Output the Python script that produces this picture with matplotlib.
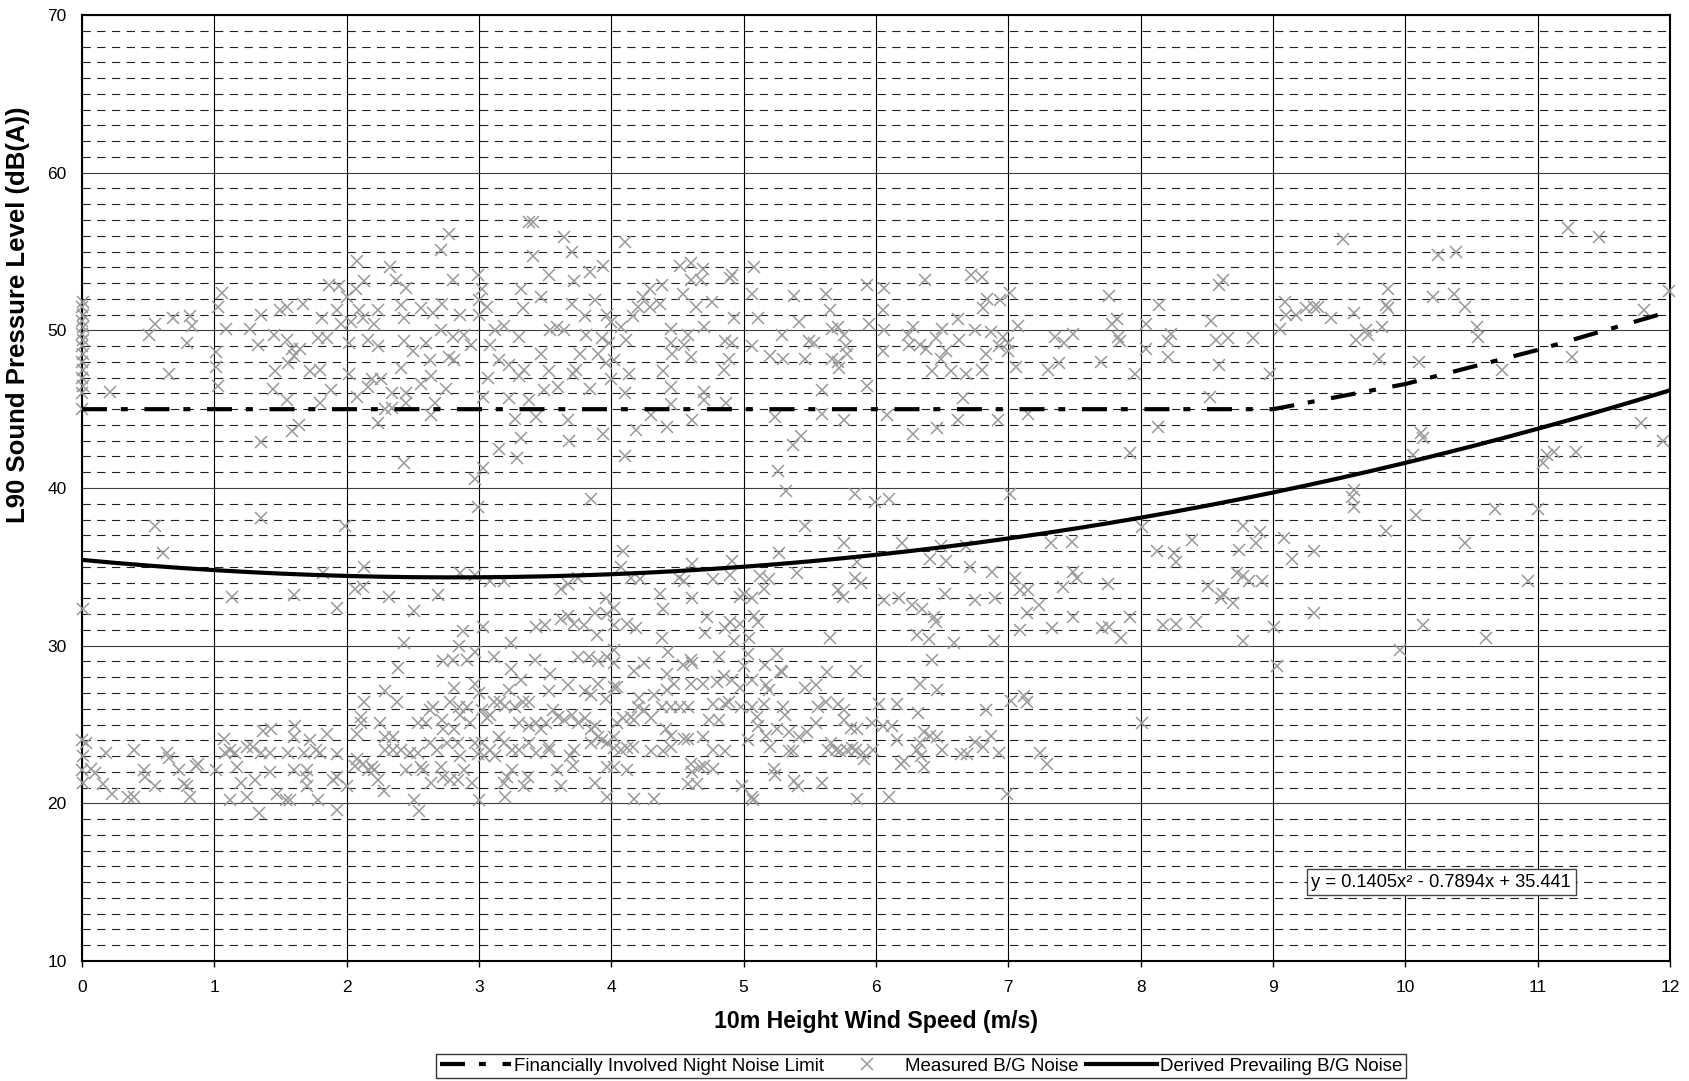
import numpy as np
import matplotlib
matplotlib.use("Agg")
import matplotlib.pyplot as plt
from matplotlib.lines import Line2D
from matplotlib.ticker import MultipleLocator

plt.rcParams['font.family'] = ['Liberation Sans', 'DejaVu Sans']
plt.rcParams['lines.scale_dashes'] = False

# Derived prevailing background noise: quadratic fit y = a*x^2 + b*x + c
FIT_A, FIT_B, FIT_C = 0.1405, -0.7894, 35.441
# Night limit for financially involved dwellings: 45 dB(A) or fit + 5 dB
LIMIT_FLOOR = 45.0
LIMIT_MARGIN = 5.0
# limit is evaluated at whole wind speeds only
LIMIT_SPEEDS = [0, 1, 2, 3, 4, 5, 6, 7, 8, 9, 10, 11, 12]

LABEL_LIMIT = "Financially Involved Night Noise Limit"
LABEL_MEASURED = "Measured B/G Noise"
LABEL_DERIVED = "Derived Prevailing B/G Noise"
X_TITLE = "10m Height Wind Speed (m/s)"
Y_TITLE = "L90 Sound Pressure Level (dB(A))"

# Measured L90 samples, (wind speed m/s, level dB(A)), grouped by speed band
upper_0_2 = [
    (0.0, 45.0), (0.0, 46.0), (0.01, 46.5), (0.0, 47.0), (0.01, 47.5), (0.0, 48.0),
    (0.01, 48.5), (0.0, 49.0), (0.01, 49.4), (0.0, 49.8), (0.01, 50.2), (0.0, 50.6),
    (0.01, 51.0), (0.0, 51.5), (0.01, 51.8),
    (0.21, 46.1), (0.51, 49.7), (0.55, 50.4), (0.69, 50.8), (0.79, 49.2), (0.82, 50.9),
    (0.83, 50.3), (0.66, 47.2), (1.03, 51.5), (1.06, 52.4), (1.01, 48.6), (1.01, 47.7),
    (1.03, 46.5), (1.09, 50.1), (1.27, 50.1), (1.33, 49.1), (1.35, 51.0), (1.35, 42.9),
    (1.35, 38.1), (1.45, 49.7), (1.46, 47.4), (1.44, 46.3), (1.50, 51.3), (1.55, 51.5),
    (1.55, 49.4), (1.56, 47.9), (1.55, 45.6), (1.59, 48.8), (1.60, 48.4), (1.65, 48.8),
    (1.67, 51.7), (1.59, 43.6), (1.64, 44.0), (1.72, 47.4), (1.80, 47.5), (1.78, 49.5),
    (1.81, 50.8), (1.80, 45.4), (1.85, 49.5), (1.87, 52.9), (1.88, 46.2), (1.93, 51.3),
    (1.94, 52.8), (1.96, 50.4),
]
upper_2_4 = [
    (2.00, 52.1), (2.02, 49.2), (2.02, 47.2), (2.03, 50.5), (2.07, 52.6), (2.08, 54.4),
    (2.09, 51.3), (2.08, 45.8), (2.13, 53.1), (2.12, 50.8), (2.16, 49.4), (2.16, 46.4),
    (2.19, 46.9), (2.21, 50.4), (2.24, 51.3), (2.24, 49.0), (2.24, 44.1), (2.26, 46.9),
    (2.29, 45.0), (2.33, 54.0), (2.34, 46.0), (2.34, 45.1), (2.37, 53.2), (2.41, 51.6),
    (2.41, 47.6), (2.43, 50.8), (2.43, 49.3), (2.43, 41.6), (2.45, 52.7), (2.45, 46.0),
    (2.45, 45.4), (2.50, 48.7), (2.56, 51.4), (2.56, 46.6), (2.60, 49.2), (2.63, 48.1),
    (2.64, 47.1), (2.65, 51.1), (2.67, 45.4), (2.64, 44.6), (2.71, 55.1), (2.72, 51.7),
    (2.71, 50.0), (2.75, 46.3), (2.77, 56.1), (2.77, 48.3), (2.80, 53.2), (2.80, 49.6),
    (2.81, 48.1), (2.86, 51.0), (2.89, 49.7), (2.94, 49.1), (2.97, 40.6), (2.99, 53.5),
    (2.99, 38.8), (3.00, 51.9), (3.00, 51.0), (3.02, 52.6), (3.03, 45.8), (3.03, 41.3),
    (3.06, 51.5), (3.07, 47.0), (3.08, 49.1), (3.12, 50.0), (3.15, 42.5), (3.15, 48.1),
    (3.19, 50.3), (3.23, 47.8), (3.23, 45.7), (3.27, 44.4), (3.29, 41.9), (3.30, 49.6),
    (3.30, 47.1), (3.32, 52.6), (3.32, 43.2), (3.33, 51.4), (3.34, 47.5), (3.38, 56.9),
    (3.41, 56.9), (3.41, 54.7), (3.38, 45.6), (3.43, 44.5), (3.47, 48.5), (3.47, 52.1),
    (3.49, 46.2), (3.53, 53.5), (3.53, 47.4), (3.54, 50.0), (3.59, 50.2), (3.60, 46.4),
    (3.64, 55.9), (3.64, 50.0), (3.67, 44.3), (3.68, 43.0), (3.70, 51.7), (3.70, 55.0),
    (3.71, 47.2), (3.72, 53.1), (3.73, 47.5), (3.76, 48.5), (3.80, 50.9), (3.81, 49.7),
    (3.84, 53.7), (3.84, 46.3), (3.85, 39.3), (3.88, 51.9), (3.90, 48.5), (3.93, 49.5),
    (3.94, 54.1), (3.94, 43.4), (3.96, 47.9), (3.97, 51.0), (3.98, 49.2),
]
upper_4_6 = [
    (4.10, 55.6), (4.00, 50.5), (4.02, 48.1), (4.00, 46.9), (4.10, 46.0), (4.13, 47.2),
    (4.11, 49.4), (4.07, 50.2), (4.16, 50.9), (4.20, 51.5), (4.24, 52.1), (4.29, 52.6),
    (4.29, 51.5), (4.37, 51.7), (4.38, 52.9), (4.39, 47.4), (4.10, 42.0), (4.19, 43.7),
    (4.30, 44.6), (4.42, 43.9), (4.45, 46.4), (4.45, 45.3), (4.45, 50.1), (4.45, 49.2),
    (4.46, 48.5), (4.52, 54.1), (4.54, 52.3), (4.55, 49.1), (4.58, 49.7), (4.60, 54.3),
    (4.60, 53.2), (4.60, 48.3), (4.61, 44.3), (4.64, 51.5), (4.68, 53.2), (4.69, 53.9),
    (4.70, 50.2), (4.70, 46.1), (4.70, 45.6), (4.76, 51.8), (4.85, 47.5), (4.86, 49.3),
    (4.87, 45.4), (4.89, 48.2), (4.90, 53.3), (4.91, 53.5), (4.91, 49.2), (4.93, 50.8),
    (5.06, 52.3), (5.06, 49.0), (5.08, 54.0), (5.11, 50.8), (5.20, 48.4), (5.24, 44.5),
    (5.26, 41.1), (5.29, 49.7), (5.30, 48.2), (5.32, 39.8), (5.37, 42.7), (5.38, 52.2),
    (5.42, 50.5), (5.43, 43.3), (5.46, 48.2), (5.49, 49.3), (5.53, 49.2), (5.59, 46.2),
    (5.59, 44.7), (5.62, 52.3), (5.65, 51.3), (5.67, 50.1), (5.67, 48.2), (5.71, 50.2),
    (5.72, 47.6), (5.71, 48.0), (5.76, 49.7), (5.76, 44.3), (5.77, 49.0), (5.78, 48.5),
    (5.84, 39.6), (5.93, 52.9), (5.93, 46.5), (5.95, 50.4), (5.99, 39.1),
]
upper_6_8 = [
    (6.05, 51.3), (6.06, 52.7), (6.06, 50.0), (6.05, 48.7), (6.08, 44.6), (6.10, 39.3),
    (6.24, 49.7), (6.25, 49.1), (6.28, 50.2), (6.28, 43.4), (6.33, 49.1), (6.37, 53.2),
    (6.38, 48.8), (6.42, 47.4), (6.45, 49.5), (6.46, 43.8), (6.49, 48.2), (6.50, 50.1),
    (6.53, 48.7), (6.57, 47.4), (6.62, 50.7), (6.62, 44.3), (6.63, 49.4), (6.66, 45.7),
    (6.68, 47.2), (6.72, 53.5), (6.75, 50.0), (6.80, 53.4), (6.80, 47.5), (6.81, 51.4),
    (6.83, 48.5), (6.84, 52.0), (6.87, 49.9), (6.92, 44.3), (6.93, 49.0), (6.94, 51.9),
    (6.96, 49.6), (7.00, 49.2), (7.00, 48.7), (7.01, 52.4), (7.01, 39.6), (7.06, 47.7),
    (7.07, 50.3), (7.15, 44.7), (7.30, 47.5), (7.35, 49.6), (7.38, 47.9), (7.42, 49.2),
    (7.49, 49.8), (7.70, 48.0), (7.76, 52.2), (7.78, 50.4), (7.82, 50.7), (7.83, 49.6),
    (7.84, 49.3), (7.92, 42.2), (7.96, 47.2),
]
upper_8_12 = [
    (8.04, 50.4), (8.04, 48.8), (8.14, 51.6), (8.21, 49.3), (8.21, 48.3), (8.23, 49.8),
    (8.13, 43.9), (8.52, 45.8), (8.53, 50.6), (8.57, 49.4), (8.59, 52.9), (8.62, 53.2),
    (8.59, 47.8), (8.66, 49.5), (8.85, 49.5), (8.98, 47.2), (9.05, 50.1), (9.09, 51.8),
    (9.10, 51.0), (9.17, 51.0), (9.25, 51.4), (9.31, 51.5), (9.34, 51.5), (9.44, 50.8),
    (9.53, 55.8), (9.61, 51.1), (9.63, 49.4), (9.70, 50.0), (9.72, 49.7), (9.82, 50.2),
    (9.80, 48.2), (9.85, 51.6), (9.87, 52.6), (9.87, 51.4), (10.10, 48.0), (10.21, 52.1),
    (10.25, 54.8), (10.37, 52.3), (10.38, 55.0), (10.45, 51.5), (10.54, 50.2), (10.55, 49.6),
    (10.73, 47.5), (11.23, 56.5), (11.26, 48.3), (11.46, 55.9), (11.80, 51.3), (11.99, 52.5),
    (11.78, 44.1), (11.95, 43.0), (10.12, 43.5), (10.13, 43.2), (10.06, 42.1), (11.04, 41.6),
    (11.07, 42.1), (11.12, 42.3), (11.29, 42.3), (9.61, 39.9), (9.60, 39.4), (9.61, 38.8),
    (10.08, 38.3), (10.68, 38.7), (11.00, 38.7),
]
lower_0_4 = [
    (0.55, 37.6), (0.61, 35.9), (1.99, 37.6), (2.13, 35.0), (1.82, 34.6), (2.06, 33.6),
    (2.12, 33.7), (1.13, 33.1), (1.60, 33.2), (1.93, 32.4), (2.32, 33.1), (2.51, 32.2),
    (2.69, 33.2), (2.86, 34.6), (2.97, 34.5), (3.08, 34.1), (3.19, 34.1), (3.62, 33.6),
    (3.67, 33.9), (3.75, 34.3), (3.03, 31.2), (2.88, 30.9), (2.85, 30.0), (2.97, 29.6),
    (2.43, 30.2), (2.39, 28.6), (2.73, 29.0), (2.80, 29.1), (2.91, 29.1), (3.11, 29.3),
    (3.24, 30.2), (3.42, 29.1), (3.43, 31.2), (3.50, 31.3), (3.62, 31.7), (3.67, 31.9),
    (3.72, 31.4), (3.79, 31.3), (3.89, 30.7), (3.96, 33.0), (3.88, 32.1), (3.97, 32.0),
    (3.75, 29.3), (3.83, 29.3), (3.90, 29.0), (3.97, 29.3), (2.81, 27.3), (2.29, 27.1),
    (2.38, 26.4), (2.13, 26.4), (2.97, 27.6), (3.24, 28.5), (3.32, 27.8), (3.23, 27.2),
    (3.00, 27.0), (3.54, 28.2), (3.53, 27.1), (3.67, 27.5), (3.80, 27.1), (3.85, 26.9),
    (3.90, 27.6), (3.96, 26.6),
    (2.63, 25.9), (2.65, 26.1), (2.54, 25.1), (2.72, 25.3), (2.78, 26.4), (2.85, 26.1),
    (2.86, 25.6), (2.91, 26.1), (2.93, 25.1), (3.02, 25.9), (3.06, 25.4), (3.08, 25.6),
    (3.11, 26.4), (3.16, 26.4), (3.20, 26.2), (3.27, 26.1), (3.33, 26.4), (3.38, 26.4),
    (3.30, 25.1), (3.38, 24.9), (3.43, 25.1), (3.47, 24.7), (3.51, 25.1), (3.56, 25.9),
    (3.60, 25.5), (3.64, 25.3), (3.70, 25.6), (3.80, 25.4), (3.85, 24.7), (3.88, 24.9),
    (3.90, 24.2), (3.93, 24.0), (3.97, 23.8), (3.85, 23.8), (3.97, 22.3), (3.88, 21.3),
    (3.97, 20.4), (3.75, 25.1), (3.72, 23.4), (3.71, 22.4), (3.69, 23.0), (3.62, 21.1),
    (3.59, 22.1), (3.53, 23.6), (3.53, 23.4), (3.43, 23.2), (3.37, 21.7), (3.34, 21.1),
    (3.38, 23.8), (3.30, 23.4), (3.25, 22.1), (3.21, 21.7), (3.19, 21.3), (3.20, 20.4),
    (3.25, 23.4), (3.19, 23.8), (3.15, 24.2), (3.12, 23.0), (3.08, 23.4), (3.04, 23.0),
    (3.02, 23.8), (2.99, 23.1), (2.97, 23.8), (3.00, 20.2), (2.95, 21.3), (2.89, 22.1),
    (2.86, 23.0), (2.84, 23.8), (2.81, 24.7), (2.76, 23.8), (2.73, 24.7), (2.73, 21.7),
    (2.78, 21.5), (2.84, 21.5), (2.71, 22.3), (2.68, 23.4), (2.63, 23.8), (2.60, 25.1),
    (2.64, 21.3), (2.58, 22.1), (2.56, 22.3), (2.54, 23.2), (2.48, 23.2), (2.45, 22.1),
    (2.41, 23.4), (2.35, 23.4), (2.29, 23.4), (2.28, 20.8), (2.24, 21.5), (2.21, 22.1),
    (2.19, 22.3), (2.16, 22.1), (2.12, 22.5), (2.08, 22.8), (2.06, 22.4), (2.11, 25.1),
    (2.11, 25.5), (2.08, 24.4), (2.25, 25.1), (2.29, 24.2), (2.35, 24.2), (2.51, 20.2),
    (2.55, 19.5), (2.00, 21.1), (1.93, 19.6), (1.93, 23.1), (1.93, 21.7), (1.90, 21.5),
    (1.85, 24.4), (1.78, 20.2), (1.80, 23.2), (1.77, 23.4), (1.72, 24.0), (1.70, 22.1),
    (1.69, 21.7), (1.70, 21.1), (1.68, 23.2), (1.61, 24.9), (1.60, 24.2), (1.60, 22.1),
    (1.56, 23.2), (1.57, 20.2), (1.54, 20.2), (1.47, 20.6), (1.43, 24.7), (1.42, 23.2),
    (1.42, 22.0), (1.37, 24.6), (1.35, 23.2), (1.34, 19.4), (1.31, 21.5), (1.29, 23.6),
    (1.25, 23.6), (1.25, 20.4), (1.20, 21.3), (1.17, 22.3), (1.16, 23.2), (1.12, 23.4),
    (1.12, 20.2), (1.08, 23.2), (1.07, 24.1), (1.01, 22.1), (0.88, 22.5), (0.86, 22.4),
    (0.82, 20.4), (0.79, 21.1), (0.77, 21.2), (0.73, 22.1), (0.66, 22.9), (0.64, 23.2),
    (0.55, 21.1), (0.47, 22.1), (0.48, 21.7), (0.39, 23.4), (0.39, 20.4), (0.35, 20.4),
    (0.23, 20.6), (0.18, 23.2), (0.16, 21.2), (0.10, 21.9), (0.07, 22.2), (0.03, 23.8),
    (0.01, 23.0), (0.0, 22.1), (0.01, 21.3), (0.0, 24.0), (0.01, 32.3),
]
lower_4_8 = [
    (5.46, 37.6), (5.76, 36.5), (6.20, 36.5), (4.09, 36.0), (4.07, 35.0), (4.61, 35.2),
    (5.27, 35.9), (4.91, 35.4), (5.86, 35.3), (6.41, 35.5), (6.49, 36.3), (6.53, 35.4),
    (6.68, 36.3), (6.71, 35.0), (6.88, 34.7), (7.32, 36.5), (7.48, 36.6), (7.49, 34.7),
    (7.52, 34.3), (8.01, 37.5), (7.05, 34.3), (7.09, 33.5), (7.15, 33.5), (7.23, 32.6),
    (7.14, 32.1), (7.09, 31.0), (7.33, 31.1), (7.41, 33.7), (7.49, 31.8), (7.75, 33.9),
    (7.71, 31.1), (7.76, 31.2), (7.85, 30.5), (7.92, 31.8), (4.15, 34.3), (4.22, 34.2),
    (4.37, 33.3), (4.51, 34.3), (4.55, 34.1), (4.61, 33.0), (4.77, 34.2), (4.90, 34.5),
    (4.97, 33.1), (5.00, 33.3), (5.06, 33.0), (5.12, 34.4), (5.15, 33.6), (5.19, 34.2),
    (5.40, 34.6), (5.71, 33.5), (5.75, 33.1), (5.84, 34.3), (5.89, 34.0), (6.06, 32.9),
    (6.17, 33.0), (6.27, 32.6), (6.35, 32.3), (6.44, 31.8), (6.45, 31.5), (6.52, 33.3),
    (6.75, 32.9), (6.90, 33.0), (4.39, 32.3), (4.02, 32.4), (4.02, 31.3), (4.12, 31.4),
    (4.19, 31.1), (4.38, 30.5), (4.43, 29.6), (4.72, 31.8), (4.71, 30.8), (4.86, 31.1),
    (4.90, 31.5), (4.97, 31.4), (4.93, 30.3), (5.04, 30.5), (5.08, 31.9), (5.11, 31.5),
    (5.65, 30.5), (6.31, 30.7), (6.40, 30.4), (6.59, 30.2), (6.89, 30.3), (6.42, 29.1),
    (4.02, 29.7), (4.02, 28.9), (4.02, 27.4), (4.04, 27.4), (4.17, 28.4), (4.25, 28.9),
    (4.42, 28.2), (4.42, 27.2), (4.47, 27.6), (4.54, 28.8), (4.60, 29.1), (4.61, 28.9),
    (4.60, 27.6), (4.69, 27.6), (4.81, 29.3), (4.80, 27.7), (4.85, 28.1), (4.91, 27.8),
    (4.97, 27.3), (5.00, 28.7), (5.03, 29.5), (5.06, 27.8), (5.16, 28.8), (5.17, 27.5),
    (5.19, 27.2), (5.25, 29.5), (5.28, 28.4), (5.29, 28.3), (5.46, 27.3), (5.55, 27.5),
    (5.63, 28.3), (5.85, 28.4), (6.33, 27.6), (6.46, 27.2), (4.21, 26.7), (4.20, 26.1),
    (4.25, 25.9), (4.32, 26.9), (4.15, 25.5), (4.09, 25.4), (4.04, 25.1), (4.17, 25.3),
    (4.30, 25.4), (4.38, 26.1), (4.45, 26.1), (4.52, 26.1), (4.58, 26.1), (4.41, 24.7),
    (4.45, 24.3), (4.55, 24.1), (4.58, 24.1), (4.69, 24.2), (4.74, 25.3), (4.77, 26.3),
    (4.81, 25.3), (4.86, 26.3), (4.89, 26.4), (4.98, 26.1), (5.06, 26.1), (5.10, 25.5),
    (5.11, 24.9), (5.15, 26.3), (5.17, 24.3), (5.25, 24.7), (5.30, 26.1), (5.31, 25.6),
    (5.34, 24.5), (5.42, 24.2), (5.48, 24.5), (5.55, 25.1), (5.56, 26.1), (5.62, 26.4),
    (5.71, 26.3), (5.76, 25.9), (5.76, 25.3), (5.81, 24.8), (5.86, 24.7), (5.97, 25.1),
    (6.02, 26.3), (6.05, 24.9), (6.12, 24.9), (6.16, 26.3), (6.16, 24.0), (6.32, 25.7),
    (6.36, 24.5), (6.41, 24.3), (6.46, 24.2), (6.83, 25.9), (6.87, 24.3), (6.75, 23.9),
    (7.02, 26.5), (7.12, 26.8), (7.14, 26.4), (8.01, 25.1), (4.02, 24.2), (4.02, 23.5),
    (4.07, 23.4), (4.12, 23.5), (4.16, 23.6), (4.02, 22.3), (4.12, 22.1), (4.17, 20.3),
    (4.32, 20.3), (4.30, 23.3), (4.39, 23.3), (4.45, 23.6), (4.58, 21.2), (4.60, 22.5),
    (4.61, 22.0), (4.67, 22.3), (4.65, 21.2), (4.70, 22.4), (4.77, 22.2), (4.77, 23.4),
    (4.86, 23.3), (4.99, 21.1), (5.03, 24.0), (5.06, 20.4), (5.07, 20.2), (5.20, 23.6),
    (5.23, 22.2), (5.24, 21.8), (5.34, 23.3), (5.37, 23.3), (5.38, 21.4), (5.41, 21.1),
    (5.59, 21.3), (5.64, 23.4), (5.66, 23.8), (5.70, 23.4), (5.73, 23.3), (5.78, 23.4),
    (5.82, 23.5), (5.85, 23.4), (5.90, 23.2), (5.91, 22.8), (5.98, 23.4), (5.86, 20.3),
    (6.10, 20.4), (6.19, 22.5), (6.21, 22.7), (6.31, 23.4), (6.33, 23.8), (6.34, 23.0),
    (6.36, 22.3), (6.50, 23.4), (6.64, 23.1), (6.69, 23.1), (6.81, 23.6), (6.93, 23.2),
    (6.99, 20.6), (7.24, 23.2), (7.29, 22.5),
]
lower_8_12 = [
    (8.12, 36.0), (8.25, 35.9), (8.27, 35.3), (8.39, 36.7), (8.51, 33.8), (8.62, 33.3),
    (8.61, 33.0), (8.70, 32.7), (8.73, 34.6), (8.77, 34.4), (8.82, 34.1), (8.92, 34.1),
    (8.74, 36.1), (8.77, 37.6), (8.87, 36.5), (8.90, 37.2), (8.17, 31.3), (8.27, 31.4),
    (8.42, 31.5), (8.77, 30.3), (9.01, 31.2), (9.03, 28.7), (9.08, 36.8), (9.14, 35.5),
    (9.31, 36.0), (9.31, 32.1), (9.85, 37.3), (9.96, 29.7), (10.13, 31.3), (10.45, 36.5),
    (10.61, 30.5), (10.93, 34.1),
]

measured = upper_0_2 + upper_2_4 + upper_4_6 + upper_6_8 + upper_8_12 + lower_0_4 + lower_4_8 + lower_8_12
wind_ms = np.array([p[0] for p in measured])
l90_db = np.array([p[1] for p in measured])


def fit_curve(v):
    return FIT_A * v ** 2 + FIT_B * v + FIT_C


speed = np.linspace(0, 12, 241)
derived = fit_curve(speed)
limit_speed = np.array(LIMIT_SPEEDS, dtype=float)
night_limit = np.maximum(LIMIT_FLOOR, fit_curve(limit_speed) + LIMIT_MARGIN)

LIMIT_DASH = (0, (18, 10, 5, 12))
GREY = '#999999'

fig = plt.figure(figsize=(16.9, 10.81), dpi=100)
ax = fig.add_axes([0.0485, 0.111, 0.9397, 0.8751])

ax.plot(wind_ms, l90_db, ls='none', marker='x', color=GREY, ms=8, mew=1.1,
        clip_on=False, zorder=3)
ax.plot(limit_speed, night_limit, color='black', lw=3, linestyle=LIMIT_DASH, zorder=4)
ax.plot(speed, derived, color='black', lw=3, zorder=4)

ax.set_xlim(0, 12)
ax.set_ylim(10, 70)
ax.xaxis.set_major_locator(MultipleLocator(1))
ax.yaxis.set_major_locator(MultipleLocator(10))
ax.yaxis.set_minor_locator(MultipleLocator(1))
ax.set_axisbelow(True)
ax.grid(which='major', axis='x', color='black', lw=0.8)
ax.grid(which='major', axis='y', color='#404040', lw=0.8)
ax.grid(which='minor', axis='y', color='#222222', lw=0.8, linestyle=(0, (6, 4.6)))

for s in ax.spines.values():
    s.set_linewidth(1.5)
    s.set_color('black')

ax.tick_params(axis='x', which='major', direction='out', length=4.5, width=1,
               pad=9, labelsize=12.5)
ax.tick_params(axis='y', which='both', length=0, pad=11, labelsize=12.5)

ax.set_xlabel(X_TITLE, fontsize=16.7, fontweight='bold', labelpad=11)
ax.set_ylabel(Y_TITLE, fontsize=18.5, fontweight='bold')
ax.yaxis.set_label_coords(-0.033, 0.683)

eq = f"y = {FIT_A}x\u00b2 - {abs(FIT_B)}x + {FIT_C}"
ax.text(10.27, 15.0, eq, ha='center', va='center', fontsize=13.2, zorder=5,
        bbox=dict(boxstyle='square,pad=0.25', fc='white', ec='#444444', lw=1))

handles = [
    Line2D([], [], color='black', lw=3, linestyle=LIMIT_DASH),
    Line2D([], [], ls='none', marker='x', color=GREY, ms=8, mew=1.1),
    Line2D([], [], color='black', lw=3),
]
leg = fig.legend(handles, [LABEL_LIMIT, LABEL_MEASURED, LABEL_DERIVED],
                 loc='center', bbox_to_anchor=(0.545, 0.0139), ncol=3,
                 frameon=True, fancybox=False, edgecolor='black', fontsize=13.5,
                 handlelength=3.8, handletextpad=0.15, columnspacing=0.4,
                 borderpad=0.2, borderaxespad=0)
leg.get_frame().set_linewidth(1.0)

fig.savefig('out.png', dpi=100)
